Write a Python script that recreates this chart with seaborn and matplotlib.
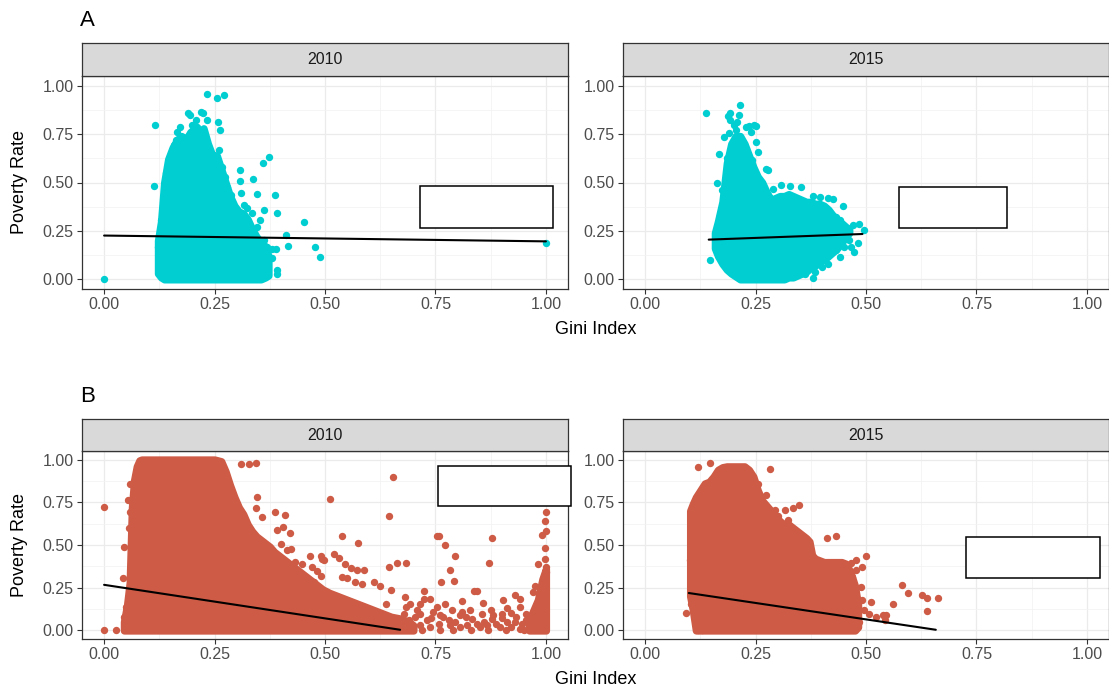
import matplotlib
matplotlib.use("Agg")
import matplotlib.pyplot as plt
import seaborn as sns
import pandas as pd
from matplotlib.patches import Rectangle

# ---------------------------------------------------------------- data
years = ["2010", "2015"]
panel_tags = ["A", "B"]
tick_values = [0.0, 0.25, 0.5, 0.75, 1.0]
tick_labels = ["0.00", "0.25", "0.50", "0.75", "1.00"]
minor_values = [0.125, 0.375, 0.625, 0.875]

# A / 2010 : dense core of counties (column envelope) + individual counties
a10_core_x = [0.122, 0.129, 0.136, 0.145, 0.155, 0.165, 0.175, 0.185, 0.195, 0.205,
              0.215, 0.225, 0.235, 0.245, 0.255, 0.265, 0.275, 0.285, 0.295, 0.305,
              0.315, 0.325, 0.335, 0.345, 0.355, 0.365, 0.372]
a10_core_lo = [0.03, 0.01, 0.0, 0.0, 0.0, 0.0, 0.0, 0.0, 0.0, 0.0,
               0.0, 0.0, 0.0, 0.0, 0.0, 0.0, 0.0, 0.0, 0.0, 0.0,
               0.0, 0.0, 0.0, 0.0, 0.0, 0.01, 0.02]
a10_core_hi = [0.20, 0.30, 0.50, 0.62, 0.68, 0.72, 0.74, 0.72, 0.76, 0.78,
               0.76, 0.78, 0.70, 0.64, 0.64, 0.57, 0.50, 0.43, 0.38, 0.35,
               0.34, 0.31, 0.26, 0.22, 0.19, 0.17, 0.12]
a10_pts_x = [0.0, 1.0, 0.234, 0.255, 0.272, 0.115, 0.114, 0.258, 0.262, 0.195,
             0.223, 0.373, 0.36, 0.307, 0.307, 0.337, 0.347, 0.387, 0.309, 0.392,
             0.363, 0.452, 0.412, 0.416, 0.478, 0.488, 0.392, 0.392, 0.388, 0.381,
             0.354, 0.347, 0.172, 0.166, 0.162, 0.159, 0.155, 0.181, 0.204, 0.211,
             0.22, 0.208, 0.234, 0.226, 0.26, 0.245, 0.268, 0.14, 0.189, 0.219,
             0.2, 0.178, 0.273, 0.279, 0.287, 0.317, 0.324, 0.335, 0.129, 0.123,
             0.132, 0.332, 0.343, 0.324, 0.366, 0.369, 0.362, 0.381]
a10_pts_y = [0.0, 0.19, 0.959, 0.936, 0.95, 0.798, 0.482, 0.81, 0.769, 0.848,
             0.858, 0.63, 0.60, 0.565, 0.51, 0.516, 0.44, 0.433, 0.444, 0.344,
             0.357, 0.294, 0.228, 0.174, 0.168, 0.114, 0.047, 0.03, 0.154, 0.112,
             0.306, 0.27, 0.789, 0.763, 0.72, 0.694, 0.66, 0.694, 0.755, 0.789,
             0.755, 0.824, 0.824, 0.694, 0.668, 0.6, 0.582, 0.548, 0.858, 0.862,
             0.798, 0.737, 0.53, 0.478, 0.435, 0.383, 0.366, 0.34, 0.306, 0.168,
             0.047, 0.055, 0.02, 0.012, 0.064, 0.168, 0.202, 0.159]
a10_fit_x = [0.0, 1.0]
a10_fit_y = [0.226, 0.196]

# A / 2015
a15_core_x = [0.158, 0.165, 0.175, 0.185, 0.195, 0.205, 0.215, 0.225, 0.235, 0.245,
              0.255, 0.265, 0.275, 0.285, 0.295, 0.305, 0.315, 0.325, 0.335, 0.345,
              0.355, 0.365, 0.375, 0.385, 0.395, 0.405, 0.415, 0.425, 0.435, 0.445,
              0.455, 0.462]
a15_core_lo = [0.16, 0.12, 0.08, 0.05, 0.03, 0.015, 0.0, 0.0, 0.0, 0.0,
               0.0, 0.0, 0.0, 0.0, 0.0, 0.0, 0.0, 0.01, 0.01, 0.02,
               0.03, 0.04, 0.06, 0.07, 0.09, 0.10, 0.12, 0.14, 0.16, 0.19,
               0.22, 0.24]
a15_core_hi = [0.24, 0.30, 0.40, 0.60, 0.70, 0.74, 0.74, 0.70, 0.64, 0.58,
               0.53, 0.50, 0.45, 0.41, 0.42, 0.43, 0.43, 0.44, 0.43, 0.42,
               0.41, 0.40, 0.40, 0.39, 0.39, 0.38, 0.36, 0.33, 0.31, 0.29,
               0.27, 0.26]
a15_pts_x = [0.138, 0.215, 0.192, 0.187, 0.213, 0.168, 0.186, 0.163, 0.174, 0.146,
             0.381, 0.307, 0.289, 0.327, 0.354, 0.425, 0.447, 0.496, 0.484, 0.471,
             0.481, 0.461, 0.473, 0.362, 0.45, 0.278, 0.274, 0.251, 0.236, 0.178,
             0.19, 0.205, 0.228, 0.239, 0.247, 0.209, 0.201, 0.193, 0.251, 0.255,
             0.243, 0.17, 0.17, 0.178, 0.193, 0.209, 0.415, 0.396, 0.381, 0.431,
             0.442, 0.442, 0.415, 0.40, 0.385, 0.431, 0.454, 0.465]
a15_pts_y = [0.858, 0.901, 0.858, 0.841, 0.849, 0.646, 0.625, 0.495, 0.461, 0.098,
             0.008, 0.487, 0.464, 0.482, 0.478, 0.413, 0.378, 0.254, 0.285, 0.28,
             0.188, 0.202, 0.141, 0.026, 0.167, 0.565, 0.568, 0.792, 0.792, 0.737,
             0.754, 0.772, 0.789, 0.763, 0.797, 0.815, 0.798, 0.823, 0.711, 0.66,
             0.616, 0.279, 0.331, 0.461, 0.513, 0.547, 0.418, 0.426, 0.43, 0.323,
             0.306, 0.116, 0.081, 0.064, 0.038, 0.15, 0.219, 0.167]
a15_fit_x = [0.144, 0.492]
a15_fit_y = [0.205, 0.234]

# B / 2010
b10_core_x = [0.045, 0.052, 0.058, 0.063, 0.068, 0.074, 0.08, 0.085, 0.10, 0.15,
              0.20, 0.25, 0.265, 0.275, 0.285, 0.295, 0.305, 0.315, 0.325, 0.335,
              0.345, 0.355, 0.365, 0.375, 0.385, 0.395, 0.405, 0.415, 0.425, 0.435,
              0.445, 0.455, 0.465, 0.475, 0.485, 0.495, 0.51, 0.53, 0.55, 0.57,
              0.59, 0.61, 0.63, 0.65, 0.67, 0.69, 0.70]
b10_core_lo = [0.0, 0.0, 0.0, 0.0, 0.0, 0.0, 0.0, 0.0, 0.0, 0.0,
               0.0, 0.0, 0.0, 0.0, 0.0, 0.0, 0.0, 0.0, 0.0, 0.0,
               0.0, 0.0, 0.0, 0.0, 0.0, 0.0, 0.0, 0.0, 0.0, 0.0,
               0.0, 0.0, 0.0, 0.0, 0.0, 0.0, 0.0, 0.0, 0.0, 0.0,
               0.0, 0.0, 0.0, 0.0, 0.0, 0.0, 0.0]
b10_core_hi = [0.05, 0.15, 0.28, 0.72, 0.88, 0.96, 0.995, 1.0, 1.0, 1.0,
               1.0, 1.0, 0.99, 0.93, 0.85, 0.78, 0.72, 0.68, 0.62, 0.58,
               0.55, 0.53, 0.51, 0.49, 0.46, 0.44, 0.42, 0.40, 0.38, 0.36,
               0.34, 0.32, 0.30, 0.28, 0.26, 0.24, 0.22, 0.20, 0.18, 0.16,
               0.14, 0.12, 0.10, 0.08, 0.07, 0.05, 0.03]
b10_edge_x = [0.962, 0.972, 0.982, 0.992, 1.0]
b10_edge_lo = [0.0, 0.0, 0.0, 0.0, 0.0]
b10_edge_hi = [0.06, 0.12, 0.18, 0.30, 0.36]
b10_left_x = [0.0, 0.0, 0.026, 0.05, 0.059, 0.054, 0.042, 0.05, 0.046, 0.058,
              0.056, 0.044]
b10_left_y = [0.72, 0.0, 0.0, 0.015, 0.858, 0.764, 0.308, 0.136, 0.078, 0.692,
              0.60, 0.487]
b10_upper_x = [0.309, 0.328, 0.344, 0.347, 0.343, 0.358, 0.387, 0.409, 0.391, 0.405,
               0.42, 0.401, 0.422, 0.414, 0.466, 0.49, 0.497, 0.431, 0.448, 0.471,
               0.482, 0.49, 0.475]
b10_upper_y = [0.975, 0.975, 0.98, 0.78, 0.717, 0.663, 0.692, 0.678, 0.585, 0.608,
               0.569, 0.507, 0.478, 0.468, 0.433, 0.433, 0.41, 0.40, 0.39, 0.37,
               0.35, 0.316, 0.282]
b10_mid_x = [0.654, 0.512, 0.644, 0.538, 0.575, 0.753, 0.759, 0.772, 0.877, 0.794,
             0.872, 0.782, 0.762, 0.792, 0.664, 0.684, 0.644, 0.52, 0.531, 0.546,
             0.559, 0.539, 0.55, 0.569, 0.584, 0.61, 0.494, 0.588, 0.573, 0.624,
             0.65, 0.68, 0.723, 0.837, 0.843, 0.903, 0.93, 0.941, 0.97, 0.975,
             0.738, 0.772, 0.81, 0.858, 0.715, 0.693, 0.638]
b10_mid_y = [0.897, 0.77, 0.669, 0.55, 0.513, 0.552, 0.55, 0.501, 0.542, 0.433,
             0.394, 0.355, 0.283, 0.292, 0.394, 0.394, 0.37, 0.448, 0.425, 0.386,
             0.367, 0.312, 0.308, 0.283, 0.273, 0.283, 0.419, 0.355, 0.355, 0.263,
             0.238, 0.195, 0.228, 0.228, 0.228, 0.181, 0.205, 0.185, 0.224, 0.263,
             0.185, 0.156, 0.172, 0.16, 0.156, 0.156, 0.156]
b10_col_x = [1.0, 0.999, 0.992, 1.0, 0.999, 0.999, 0.982, 1.0, 1.0, 0.995]
b10_col_y = [0.692, 0.643, 0.56, 0.581, 0.482, 0.419, 0.386, 0.37, 0.34, 0.31]
b10_band_x = [0.678, 0.689, 0.704, 0.715, 0.73, 0.745, 0.757, 0.768, 0.783, 0.794,
              0.806, 0.821, 0.832, 0.843, 0.855, 0.866, 0.877, 0.888, 0.90, 0.911,
              0.922, 0.933, 0.945, 0.956, 0.964, 0.715, 0.70, 0.738, 0.806, 0.851,
              0.896, 0.941, 0.753, 0.787, 0.828, 0.875, 0.911, 0.941, 0.684, 0.708,
              0.723, 0.72, 0.76, 0.79, 0.83, 0.87, 0.91, 0.95, 0.69, 0.74,
              0.78, 0.82, 0.86, 0.9, 0.93, 0.955, 0.76, 0.81, 0.88, 0.92]
b10_band_y = [0.097, 0.039, 0.078, 0.029, 0.059, 0.107, 0.039, 0.078, 0.029, 0.049,
              0.088, 0.029, 0.068, 0.039, 0.097, 0.029, 0.068, 0.039, 0.097, 0.049,
              0.02, 0.078, 0.039, 0.097, 0.029, 0.097, 0.02, 0.02, 0.02, 0.02,
              0.02, 0.01, 0.137, 0.121, 0.117, 0.117, 0.133, 0.137, 0.137, 0.121,
              0.185, 0.0, 0.0, 0.005, 0.0, 0.005, 0.0, 0.0, 0.06, 0.07,
              0.06, 0.08, 0.05, 0.07, 0.05, 0.06, 0.09, 0.11, 0.09, 0.10]
b10_fit_x = [0.0, 0.67]
b10_fit_y = [0.267, 0.004]

# B / 2015
b15_core_x = [0.102, 0.108, 0.115, 0.125, 0.135, 0.145, 0.155, 0.165, 0.175, 0.185,
              0.205, 0.225, 0.235, 0.245, 0.255, 0.265, 0.275, 0.285, 0.295, 0.305,
              0.315, 0.325, 0.335, 0.345, 0.355, 0.365, 0.372, 0.378, 0.385, 0.395,
              0.405, 0.415, 0.425, 0.435, 0.445, 0.455, 0.465, 0.475, 0.482]
b15_core_lo = [0.20, 0.12, 0.0, 0.0, 0.0, 0.0, 0.0, 0.0, 0.0, 0.0,
               0.0, 0.0, 0.0, 0.0, 0.0, 0.0, 0.0, 0.0, 0.0, 0.0,
               0.0, 0.0, 0.0, 0.0, 0.0, 0.0, 0.0, 0.0, 0.0, 0.0,
               0.0, 0.0, 0.0, 0.0, 0.0, 0.0, 0.0, 0.0, 0.02]
b15_core_hi = [0.70, 0.74, 0.78, 0.82, 0.86, 0.87, 0.90, 0.94, 0.955, 0.96,
               0.96, 0.96, 0.94, 0.90, 0.82, 0.76, 0.73, 0.70, 0.67, 0.64,
               0.62, 0.62, 0.60, 0.58, 0.56, 0.54, 0.52, 0.44, 0.42, 0.41,
               0.40, 0.40, 0.40, 0.40, 0.40, 0.39, 0.34, 0.26, 0.15]
b15_pts_x = [0.119, 0.148, 0.283, 0.256, 0.274, 0.348, 0.335, 0.316, 0.301, 0.324,
             0.295, 0.412, 0.431, 0.50, 0.102, 0.092, 0.103, 0.582, 0.595, 0.562,
             0.545, 0.538, 0.507, 0.511, 0.488, 0.477, 0.492, 0.627, 0.637, 0.662,
             0.639, 0.477, 0.465, 0.469, 0.477, 0.523, 0.542, 0.49, 0.495, 0.485,
             0.12, 0.128]
b15_pts_y = [0.955, 0.978, 0.945, 0.858, 0.795, 0.735, 0.717, 0.702, 0.667, 0.647,
             0.706, 0.542, 0.55, 0.433, 0.413, 0.101, 0.152, 0.267, 0.22, 0.156,
             0.088, 0.088, 0.097, 0.166, 0.257, 0.351, 0.37, 0.21, 0.191, 0.191,
             0.111, 0.41, 0.394, 0.312, 0.195, 0.078, 0.059, 0.18, 0.12, 0.05,
             0.0, 0.005]
b15_fit_x = [0.099, 0.658]
b15_fit_y = [0.219, 0.004]

# ---------------------------------------------------------------- style
TEAL = "#00CED1"
CORAL = "#CD5B45"
DOT_PT = 5.3                 # marker diameter in points
W, H = 1109, 689

sns.set_theme(style="white")
plt.rcParams["font.family"] = ["Liberation Sans", "DejaVu Sans"]

fig = plt.figure(figsize=(W / 100, H / 100), dpi=100)
fig.patch.set_facecolor("white")


def fx(px):
    return px / W


def fy(py):
    return 1 - py / H


# panel rectangles (pixel edges) and strip heights
cols = [(82, 568), (623, 1109)]
rows = [dict(top=76, bottom=289, strip_top=43),
        dict(top=451, bottom=639, strip_top=419)]

# empty annotation frames in data units (x0, y0, x1, y1)
frames = {("A", "2010"): (0.715, 0.267, 1.016, 0.480),
          ("A", "2015"): (0.574, 0.267, 0.820, 0.479),
          ("B", "2010"): (0.755, 0.726, 1.056, 0.962),
          ("B", "2015"): (0.727, 0.309, 1.029, 0.549)}

panels = {
    ("A", "2010"): dict(color=TEAL,
                        cores=[(a10_core_x, a10_core_lo, a10_core_hi)],
                        pts=[(a10_pts_x, a10_pts_y)],
                        fit=(a10_fit_x, a10_fit_y)),
    ("A", "2015"): dict(color=TEAL,
                        cores=[(a15_core_x, a15_core_lo, a15_core_hi)],
                        pts=[(a15_pts_x, a15_pts_y)],
                        fit=(a15_fit_x, a15_fit_y)),
    ("B", "2010"): dict(color=CORAL,
                        cores=[(b10_core_x, b10_core_lo, b10_core_hi),
                               (b10_edge_x, b10_edge_lo, b10_edge_hi)],
                        pts=[(b10_left_x, b10_left_y), (b10_upper_x, b10_upper_y),
                             (b10_mid_x, b10_mid_y), (b10_col_x, b10_col_y),
                             (b10_band_x, b10_band_y)],
                        fit=(b10_fit_x, b10_fit_y)),
    ("B", "2015"): dict(color=CORAL,
                        cores=[(b15_core_x, b15_core_lo, b15_core_hi)],
                        pts=[(b15_pts_x, b15_pts_y)],
                        fit=(b15_fit_x, b15_fit_y)),
}

BORDER = "#333333"

for r, tag in enumerate(panel_tags):
    rw = rows[r]
    for c, year in enumerate(years):
        left, right = cols[c]
        ax = fig.add_axes([fx(left), fy(rw["bottom"]), fx(right - left),
                           (rw["bottom"] - rw["top"]) / H])
        spec = panels[(tag, year)]
        color = spec["color"]

        for cx, lo, hi in spec["cores"]:
            ax.fill_between(cx, lo, hi, facecolor=color, edgecolor=color,
                            linewidth=DOT_PT, joinstyle="round", zorder=2)
        for px_, py_ in spec["pts"]:
            df = pd.DataFrame({"gini": px_, "poverty": py_})
            sns.scatterplot(data=df, x="gini", y="poverty", ax=ax, color=color,
                            s=DOT_PT ** 2, linewidth=0, legend=False, zorder=3)
        fit = pd.DataFrame({"gini": spec["fit"][0], "poverty": spec["fit"][1]})
        sns.lineplot(data=fit, x="gini", y="poverty", ax=ax, color="black",
                     linewidth=1.5, zorder=4)

        ax.set_xlim(-0.05, 1.05)
        ax.set_ylim(-0.05, 1.05)
        ax.set_xticks(tick_values)
        ax.set_xticklabels(tick_labels)
        ax.set_yticks(tick_values)
        ax.set_yticklabels(tick_labels)
        ax.set_xticks(minor_values, minor=True)
        ax.set_yticks(minor_values, minor=True)
        ax.grid(which="major", color="#EBEBEB", linewidth=0.9)
        ax.grid(which="minor", color="#F2F2F2", linewidth=0.5)
        ax.set_axisbelow(True)
        ax.set_xlabel("")
        ax.set_ylabel("")
        ax.set_facecolor("white")
        for sp in ax.spines.values():
            sp.set_color(BORDER)
            sp.set_linewidth(0.9)
        ax.tick_params(which="major", length=3.5, width=0.8, color=BORDER,
                       labelcolor="#4D4D4D", labelsize=11.5, pad=2.5,
                       bottom=True, left=True)
        ax.tick_params(which="minor", length=0)

        x0, y0, x1, y1 = frames[(tag, year)]
        ax.add_patch(Rectangle((x0, y0), x1 - x0, y1 - y0, facecolor="white",
                               edgecolor="black", linewidth=1.1, clip_on=False,
                               zorder=6))

        # facet strip
        sax = fig.add_axes([fx(left), fy(rw["top"]), fx(right - left),
                            (rw["top"] - rw["strip_top"]) / H])
        sax.set_facecolor("#D9D9D9")
        sax.set_xticks([])
        sax.set_yticks([])
        for sp in sax.spines.values():
            sp.set_color(BORDER)
            sp.set_linewidth(0.9)
        sax.text(0.5, 0.5, year, ha="center", va="center", fontsize=11.5,
                 color="#1A1A1A", transform=sax.transAxes)

    # row titles and axis titles
    fig.text(fx(80), fy(rw["strip_top"] - 22), tag, fontsize=16, ha="left",
             va="center", color="black")
    fig.text(fx((cols[0][0] + cols[1][1]) / 2), fy(rw["bottom"] + 41),
             "Gini Index", fontsize=13, ha="center", va="center", color="black")
    fig.text(fx(20), fy((rw["top"] + rw["bottom"]) / 2), "Poverty Rate",
             fontsize=13, ha="center", va="center", rotation=90, color="black")

fig.savefig("out.png", dpi=100, facecolor="white")
